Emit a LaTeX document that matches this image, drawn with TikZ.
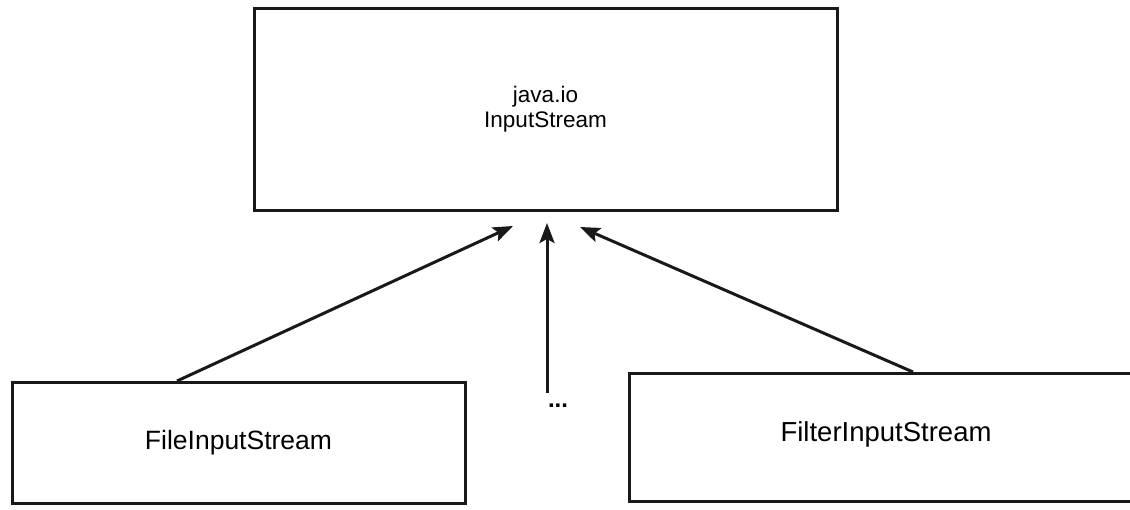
\documentclass[tikz,border=0pt]{standalone}
\usepackage{fontspec}
\setmainfont{Liberation Sans}
\usetikzlibrary{arrows.meta}
\begin{document}
\begin{tikzpicture}[x=1pt,y=-1pt,
  box/.style={draw=black!90,line width=3pt,fill=white,inner sep=0pt},
  inh/.style={draw=black!90,line width=3pt,-{Stealth[length=20pt,width=15pt,inset=4pt]}}]
\path[fill=white] (0,0) rectangle (1130,509);
\useasboundingbox (0,0) rectangle (1130,509);
\clip (0,0) rectangle (1130,509);
\node[box,minimum width=583pt,minimum height=202pt,align=center,
  font=\fontsize{22.5}{25}\selectfont] (in) at (545.5,109) {java.io\\InputStream};
\node[box,minimum width=453pt,minimum height=121pt,
  font=\fontsize{26.5}{28}\selectfont] (fin) at (238.5,442.5) {FileInputStream};
\node[box,minimum width=520pt,minimum height=128pt,anchor=north west] (fil) at (628,372) {};
\node[font=\fontsize{27.5}{29}\selectfont] (filt) at (886,434) {FilterInputStream};
\node[font=\fontsize{24}{26}\selectfont\bfseries,inner sep=0pt] (dots) at (558,406) {...};
\coordinate (t1) at (513,226);
\coordinate (t2) at (547,223);
\coordinate (t3) at (580,227);
\coordinate (s1) at (177,381);
\coordinate (s2) at (547,393);
\coordinate (s3) at (913,372);
\draw[inh] (s1) -- (t1);
\draw[inh] (s2) -- (t2);
\draw[inh] (s3) -- (t3);
\end{tikzpicture}
\end{document}
